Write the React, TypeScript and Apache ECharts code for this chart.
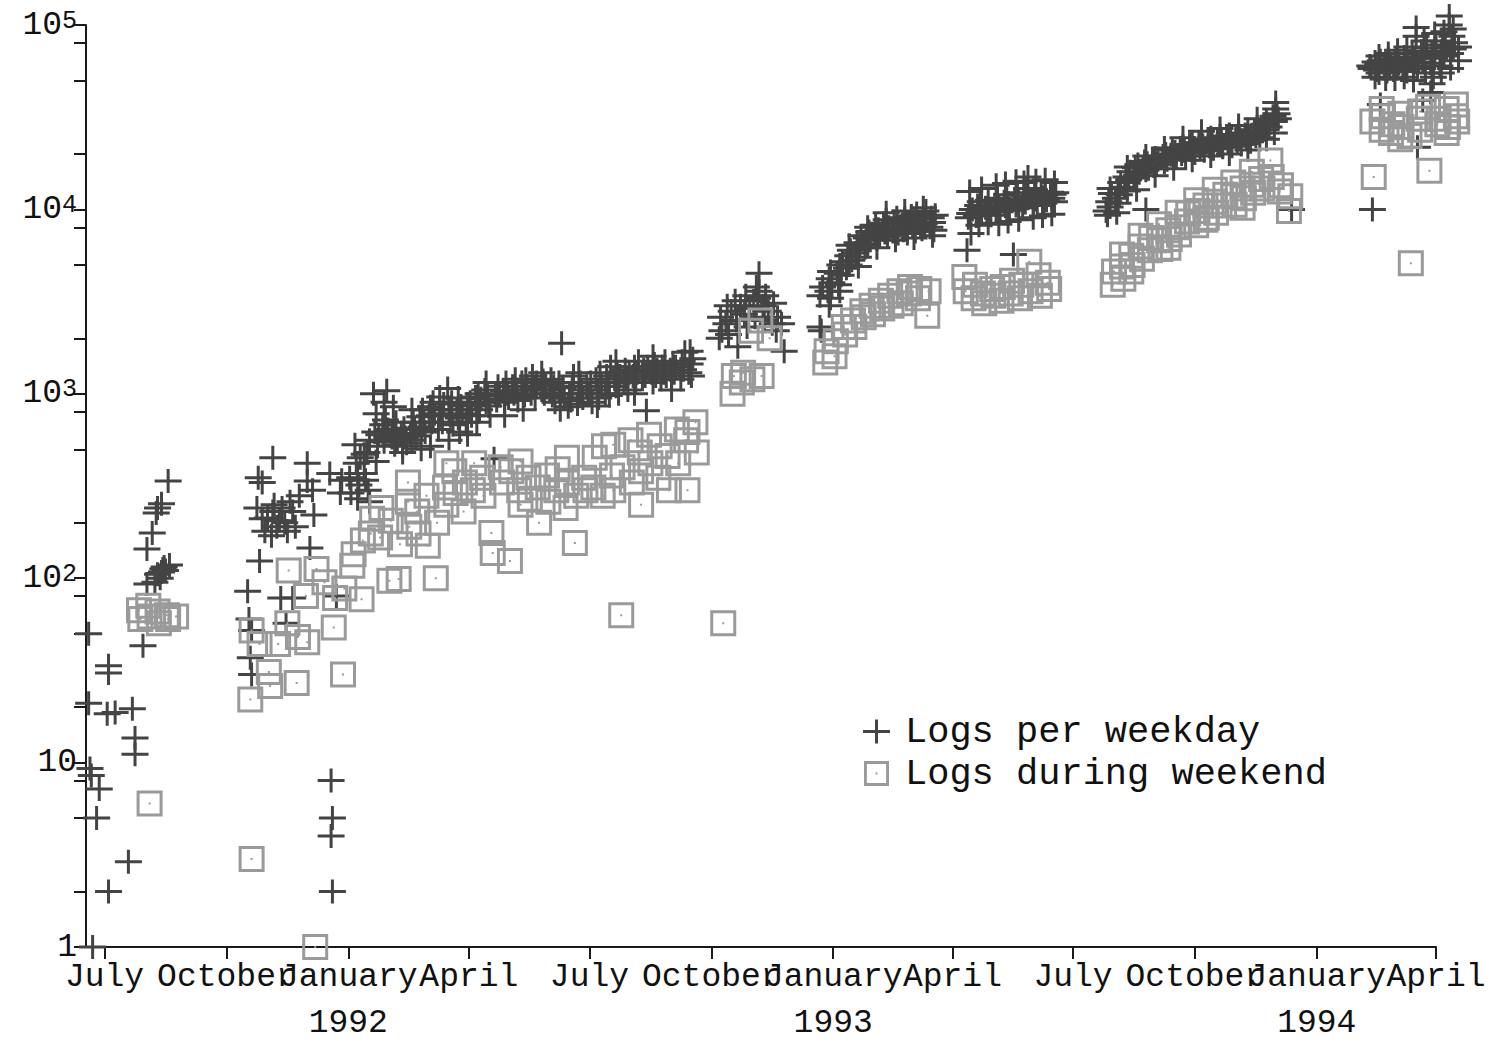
import React, { useEffect, useRef } from "react";
import * as echarts from "echarts";

// ---------- DATA (date, logs) ----------
const weekday1991: [string, number][] = [
  ["1991-06-19", 50], ["1991-06-19", 21], ["1991-06-20", 9.3], ["1991-06-21", 8.5], ["1991-06-22", 1],
  ["1991-06-25", 5], ["1991-06-27", 7.2], ["1991-07-03", 18.4], ["1991-07-04", 33.5], ["1991-07-04", 30.6],
  ["1991-07-04", 2], ["1991-07-09", 18.7], ["1991-07-19", 2.9], ["1991-07-22", 19.6], ["1991-07-24", 13.6],
  ["1991-07-24", 11.1], ["1991-07-30", 43], ["1991-08-02", 93], ["1991-08-02", 144], ["1991-08-06", 176],
  ["1991-08-08", 95], ["1991-08-09", 226], ["1991-08-10", 240], ["1991-08-10", 105], ["1991-08-12", 100],
  ["1991-08-13", 253], ["1991-08-13", 108], ["1991-08-14", 112], ["1991-08-15", 115], ["1991-08-16", 110],
  ["1991-08-18", 337], ["1991-08-19", 118],
  ["1991-10-17", 85], ["1991-10-18", 60], ["1991-10-19", 37], ["1991-10-20", 30], ["1991-10-20", 52],
  ["1991-10-24", 240], ["1991-10-25", 350], ["1991-10-26", 124], ["1991-10-28", 330], ["1991-10-28", 210],
  ["1991-10-30", 180], ["1991-11-01", 212], ["1991-11-04", 170], ["1991-11-05", 450], ["1991-11-05", 230],
  ["1991-11-06", 250], ["1991-11-08", 190], ["1991-11-10", 205], ["1991-11-11", 78], ["1991-11-12", 240],
  ["1991-11-14", 200], ["1991-11-15", 57], ["1991-11-16", 180], ["1991-11-18", 260], ["1991-11-20", 78],
  ["1991-11-20", 230], ["1991-11-22", 190], ["1991-11-25", 280], ["1991-12-01", 420], ["1991-12-01", 337],
  ["1991-12-03", 146], ["1991-12-05", 300], ["1991-12-06", 220], ["1991-12-18", 370], ["1991-12-19", 8],
  ["1991-12-20", 5], ["1991-12-19", 4], ["1991-12-20", 2], ["1991-12-23", 80], ["1991-12-26", 290],
  ["1991-12-27", 340],
];

const weekday1992: [string, number][] = [
  ["1992-01-02", 350], ["1992-01-03", 290], ["1992-01-06", 530], ["1992-01-07", 420], ["1992-01-08", 370],
  ["1992-01-08", 270], ["1992-01-09", 320], ["1992-01-10", 450], ["1992-01-13", 370], ["1992-01-13", 470],
  ["1992-01-14", 340], ["1992-01-15", 480], ["1992-01-16", 300], ["1992-01-17", 560], ["1992-01-17", 260],
  ["1992-01-20", 1000], ["1992-01-21", 620], ["1992-01-22", 780], ["1992-01-22", 430], ["1992-01-23", 520],
  ["1992-01-24", 600], ["1992-01-27", 680], ["1992-01-28", 550], ["1992-01-28", 900], ["1992-01-29", 720],
  ["1992-01-30", 1040], ["1992-01-31", 640],
  ["1992-02-03", 580], ["1992-02-04", 620], ["1992-02-04", 850], ["1992-02-05", 530], ["1992-02-06", 700],
  ["1992-02-07", 560], ["1992-02-10", 600], ["1992-02-11", 520], ["1992-02-11", 480], ["1992-02-12", 650],
  ["1992-02-13", 580], ["1992-02-14", 540], ["1992-02-17", 610], ["1992-02-18", 560], ["1992-02-18", 820],
  ["1992-02-19", 700], ["1992-02-20", 640], ["1992-02-21", 590], ["1992-02-24", 750], ["1992-02-25", 660],
  ["1992-02-25", 500], ["1992-02-26", 820], ["1992-02-27", 700], ["1992-02-28", 620],
  ["1992-03-02", 760], ["1992-03-03", 850], ["1992-03-03", 520], ["1992-03-04", 700], ["1992-03-05", 900],
  ["1992-03-06", 780], ["1992-03-09", 640], ["1992-03-10", 820], ["1992-03-10", 960], ["1992-03-11", 760],
  ["1992-03-12", 700], ["1992-03-13", 880], ["1992-03-16", 1070], ["1992-03-17", 820], ["1992-03-17", 560],
  ["1992-03-18", 760], ["1992-03-19", 900], ["1992-03-20", 680], ["1992-03-23", 820], ["1992-03-24", 740],
  ["1992-03-24", 950], ["1992-03-25", 620], ["1992-03-26", 860], ["1992-03-27", 780], ["1992-03-30", 700],
  ["1992-03-31", 600], ["1992-03-31", 880],
  ["1992-04-01", 820], ["1992-04-02", 900], ["1992-04-03", 760], ["1992-04-06", 960], ["1992-04-07", 880],
  ["1992-04-07", 700], ["1992-04-08", 1000], ["1992-04-09", 820], ["1992-04-10", 940], ["1992-04-13", 1050],
  ["1992-04-14", 900], ["1992-04-14", 1150], ["1992-04-15", 980], ["1992-04-16", 860], ["1992-04-17", 760],
  ["1992-04-20", 445], ["1992-04-21", 1000], ["1992-04-22", 920], ["1992-04-23", 1100], ["1992-04-24", 980],
  ["1992-04-27", 1040], ["1992-04-28", 900], ["1992-04-28", 760], ["1992-04-29", 1150], ["1992-04-30", 1000],
  ["1992-05-01", 950], ["1992-05-04", 1100], ["1992-05-05", 1000], ["1992-05-06", 1200], ["1992-05-07", 1050],
  ["1992-05-08", 920], ["1992-05-11", 1150], ["1992-05-12", 1050], ["1992-05-12", 820], ["1992-05-13", 980],
  ["1992-05-14", 1200], ["1992-05-15", 1100], ["1992-05-18", 1000], ["1992-05-19", 1250], ["1992-05-20", 1080],
  ["1992-05-21", 950], ["1992-05-22", 1150], ["1992-05-26", 1050], ["1992-05-26", 1300], ["1992-05-27", 1180],
  ["1992-05-28", 1000], ["1992-05-29", 1120],
  ["1992-06-01", 1050], ["1992-06-02", 1200], ["1992-06-03", 980], ["1992-06-04", 1100], ["1992-06-05", 900],
  ["1992-06-08", 1150], ["1992-06-09", 1000], ["1992-06-09", 820], ["1992-06-10", 1880], ["1992-06-11", 1080],
  ["1992-06-12", 950], ["1992-06-15", 850], ["1992-06-16", 1000], ["1992-06-17", 920], ["1992-06-18", 1100],
  ["1992-06-19", 1250], ["1992-06-22", 880], ["1992-06-23", 1000], ["1992-06-23", 1300], ["1992-06-24", 1150],
  ["1992-06-25", 1050], ["1992-06-26", 950], ["1992-06-29", 1100], ["1992-06-30", 1000],
  ["1992-07-01", 1000], ["1992-07-02", 1150], ["1992-07-03", 900], ["1992-07-06", 1200], ["1992-07-07", 1050],
  ["1992-07-07", 860], ["1992-07-08", 950], ["1992-07-09", 1300], ["1992-07-10", 1100], ["1992-07-13", 1000],
  ["1992-07-14", 1250], ["1992-07-15", 1150], ["1992-07-16", 980], ["1992-07-17", 1400], ["1992-07-20", 1200],
  ["1992-07-21", 1100], ["1992-07-21", 1500], ["1992-07-22", 1300], ["1992-07-23", 1000], ["1992-07-24", 1250],
  ["1992-07-27", 1150], ["1992-07-28", 1350], ["1992-07-29", 1200], ["1992-07-30", 1050], ["1992-07-31", 1300],
  ["1992-08-03", 1250], ["1992-08-04", 1400], ["1992-08-04", 1000], ["1992-08-05", 1150], ["1992-08-06", 1300],
  ["1992-08-07", 1500], ["1992-08-10", 1200], ["1992-08-11", 1350], ["1992-08-12", 1250], ["1992-08-13", 810],
  ["1992-08-14", 1400], ["1992-08-17", 1300], ["1992-08-18", 1150], ["1992-08-18", 1600], ["1992-08-19", 1450],
  ["1992-08-20", 1250], ["1992-08-21", 1350], ["1992-08-24", 1200], ["1992-08-25", 1400], ["1992-08-26", 1300],
  ["1992-08-27", 1500], ["1992-08-28", 1250], ["1992-08-31", 1350], ["1992-09-01", 1250], ["1992-09-01", 1050],
  ["1992-09-02", 1450], ["1992-09-03", 1300], ["1992-09-04", 1400], ["1992-09-08", 1200], ["1992-09-09", 1500],
  ["1992-09-10", 1350], ["1992-09-11", 1680], ["1992-09-14", 1300], ["1992-09-15", 1450], ["1992-09-15", 1700],
  ["1992-09-16", 1250], ["1992-09-17", 1550],
  ["1992-10-07", 2000], ["1992-10-08", 2600], ["1992-10-09", 2200], ["1992-10-12", 2400], ["1992-10-13", 3000],
  ["1992-10-14", 2100], ["1992-10-16", 2800], ["1992-10-19", 3200], ["1992-10-20", 2500], ["1992-10-21", 1800],
  ["1992-10-23", 3000], ["1992-10-26", 2700], ["1992-10-27", 3400], ["1992-10-28", 2300], ["1992-10-30", 2900],
  ["1992-11-02", 3200], ["1992-11-03", 2600], ["1992-11-04", 3800], ["1992-11-05", 3300], ["1992-11-06", 3600],
  ["1992-11-06", 4500], ["1992-11-09", 3000], ["1992-11-10", 2500], ["1992-11-11", 3400], ["1992-11-13", 2800],
  ["1992-11-16", 2400], ["1992-11-17", 3100], ["1992-11-19", 2200], ["1992-11-20", 2600], ["1992-11-23", 2400],
  ["1992-11-25", 1700],
  ["1992-12-22", 2300], ["1992-12-22", 3400], ["1992-12-23", 2200], ["1992-12-24", 3800], ["1992-12-28", 3600],
  ["1992-12-29", 4200], ["1992-12-29", 3000], ["1992-12-30", 3300], ["1992-12-30", 4600], ["1992-12-31", 4000],
];

const weekday1993: [string, number][] = [
  ["1993-01-04", 4500], ["1993-01-05", 3900], ["1993-01-06", 5000], ["1993-01-06", 3600], ["1993-01-07", 4400],
  ["1993-01-08", 5200], ["1993-01-11", 4800], ["1993-01-12", 5600], ["1993-01-13", 5000], ["1993-01-13", 6400],
  ["1993-01-14", 6000], ["1993-01-15", 5300], ["1993-01-18", 5800], ["1993-01-19", 6600], ["1993-01-20", 5500],
  ["1993-01-20", 4900], ["1993-01-21", 6400], ["1993-01-22", 7200], ["1993-01-25", 6200], ["1993-01-26", 7000],
  ["1993-01-27", 6500], ["1993-01-27", 8000], ["1993-01-28", 7600], ["1993-01-29", 6800],
  ["1993-02-01", 7300], ["1993-02-02", 8200], ["1993-02-03", 6900], ["1993-02-03", 6200], ["1993-02-04", 7800],
  ["1993-02-05", 7100], ["1993-02-08", 8400], ["1993-02-09", 7500], ["1993-02-10", 8800], ["1993-02-10", 9600],
  ["1993-02-11", 7200], ["1993-02-12", 8000], ["1993-02-15", 7600], ["1993-02-16", 8600], ["1993-02-17", 7900],
  ["1993-02-17", 6800], ["1993-02-18", 9000], ["1993-02-19", 7400], ["1993-02-22", 8300], ["1993-02-23", 7700],
  ["1993-02-24", 8900], ["1993-02-24", 9800], ["1993-02-25", 8100], ["1993-02-26", 7400],
  ["1993-03-01", 9200], ["1993-03-02", 8000], ["1993-03-03", 8600], ["1993-03-03", 7000], ["1993-03-04", 7600],
  ["1993-03-05", 9500], ["1993-03-08", 8200], ["1993-03-09", 7800], ["1993-03-10", 8900], ["1993-03-10", 10200],
  ["1993-03-11", 8400], ["1993-03-12", 9800], ["1993-03-15", 8000], ["1993-03-16", 9000], ["1993-03-17", 8500],
  ["1993-03-17", 7200], ["1993-03-18", 7700], ["1993-03-19", 9300],
  ["1993-04-12", 6000], ["1993-04-13", 9000], ["1993-04-14", 9500], ["1993-04-14", 12500], ["1993-04-15", 7400],
  ["1993-04-16", 10000], ["1993-04-19", 9200], ["1993-04-20", 10500], ["1993-04-21", 9800], ["1993-04-21", 8200],
  ["1993-04-22", 11000], ["1993-04-23", 9400], ["1993-04-23", 13000], ["1993-04-26", 10200], ["1993-04-27", 9600],
  ["1993-04-28", 11200], ["1993-04-28", 8400], ["1993-04-29", 10000], ["1993-04-30", 9300],
  ["1993-05-03", 10600], ["1993-05-04", 9900], ["1993-05-04", 13500], ["1993-05-05", 11500], ["1993-05-06", 10300],
  ["1993-05-06", 8300], ["1993-05-07", 9700], ["1993-05-10", 11000], ["1993-05-11", 10400], ["1993-05-11", 13800],
  ["1993-05-12", 12000], ["1993-05-13", 10800], ["1993-05-13", 8600], ["1993-05-14", 9900], ["1993-05-17", 5700],
  ["1993-05-18", 11300], ["1993-05-19", 10500], ["1993-05-19", 14200], ["1993-05-20", 12300], ["1993-05-21", 11000],
  ["1993-05-21", 8800], ["1993-05-24", 10200], ["1993-05-25", 11800], ["1993-05-25", 14000], ["1993-05-26", 10900],
  ["1993-05-27", 13000], ["1993-05-28", 15000], ["1993-05-28", 11500],
  ["1993-06-01", 10700], ["1993-06-01", 9000], ["1993-06-02", 12200], ["1993-06-03", 11300], ["1993-06-03", 14300],
  ["1993-06-04", 10500], ["1993-06-07", 12500], ["1993-06-08", 11600], ["1993-06-08", 9200], ["1993-06-09", 10900],
  ["1993-06-10", 12000], ["1993-06-10", 14500], ["1993-06-11", 11200], ["1993-06-14", 12400], ["1993-06-15", 11500],
  ["1993-06-15", 9400], ["1993-06-16", 12100], ["1993-06-17", 11000], ["1993-06-17", 14000], ["1993-06-18", 12300],
  ["1993-07-26", 9800], ["1993-07-27", 9300], ["1993-07-28", 11000], ["1993-07-29", 10300], ["1993-07-29", 13000],
  ["1993-07-30", 12200], ["1993-08-02", 11500], ["1993-08-03", 9600], ["1993-08-04", 13000], ["1993-08-04", 10800],
  ["1993-08-05", 12000], ["1993-08-06", 14000], ["1993-08-09", 13200], ["1993-08-10", 15000], ["1993-08-11", 12600],
  ["1993-08-11", 17000], ["1993-08-12", 14500], ["1993-08-13", 16000], ["1993-08-16", 14800], ["1993-08-17", 16800],
  ["1993-08-18", 15300], ["1993-08-18", 12800], ["1993-08-19", 17500], ["1993-08-20", 15800], ["1993-08-23", 17000],
  ["1993-08-24", 18200], ["1993-08-25", 10000], ["1993-08-25", 16300], ["1993-08-25", 19500], ["1993-08-26", 17800],
  ["1993-08-27", 16600], ["1993-08-30", 18500], ["1993-08-31", 17200],
  ["1993-09-01", 19000], ["1993-09-01", 15200], ["1993-09-02", 17600], ["1993-09-03", 18800], ["1993-09-07", 19500],
  ["1993-09-08", 18000], ["1993-09-08", 21500], ["1993-09-09", 20000], ["1993-09-10", 18600], ["1993-09-13", 19800],
  ["1993-09-14", 21000], ["1993-09-15", 19200], ["1993-09-15", 16600], ["1993-09-16", 20500], ["1993-09-17", 19000],
  ["1993-09-20", 21500], ["1993-09-21", 20000], ["1993-09-22", 22000], ["1993-09-22", 24500], ["1993-09-23", 20800],
  ["1993-09-24", 19500], ["1993-09-27", 22500], ["1993-09-28", 21000], ["1993-09-29", 23000], ["1993-09-29", 18500],
  ["1993-09-30", 21500],
  ["1993-10-01", 20200], ["1993-10-04", 23000], ["1993-10-05", 21800], ["1993-10-06", 24000], ["1993-10-06", 26500],
  ["1993-10-07", 22200], ["1993-10-08", 20800], ["1993-10-11", 23500], ["1993-10-12", 22000], ["1993-10-13", 24500],
  ["1993-10-13", 19500], ["1993-10-14", 22800], ["1993-10-15", 21300], ["1993-10-18", 24000], ["1993-10-19", 22500],
  ["1993-10-20", 25000], ["1993-10-20", 27500], ["1993-10-21", 23200], ["1993-10-22", 21700], ["1993-10-25", 24500],
  ["1993-10-26", 23000], ["1993-10-27", 25500], ["1993-10-27", 20000], ["1993-10-28", 23600], ["1993-10-29", 22000],
  ["1993-11-01", 25000], ["1993-11-02", 23500], ["1993-11-03", 26000], ["1993-11-03", 28500], ["1993-11-04", 24000],
  ["1993-11-05", 22500], ["1993-11-08", 25500], ["1993-11-09", 24200], ["1993-11-10", 27000], ["1993-11-10", 21000],
  ["1993-11-11", 25000], ["1993-11-12", 23300], ["1993-11-15", 26500], ["1993-11-16", 25000], ["1993-11-17", 28000],
  ["1993-11-17", 31000], ["1993-11-18", 26000], ["1993-11-19", 24500], ["1993-11-22", 29000], ["1993-11-23", 27000],
  ["1993-11-24", 30000], ["1993-11-24", 24000], ["1993-11-26", 28000], ["1993-11-29", 32000], ["1993-11-30", 30000],
  ["1993-11-30", 26000], ["1993-12-01", 35000], ["1993-12-01", 38000], ["1993-12-02", 33000], ["1993-12-03", 31000],
  ["1993-12-13", 10000],
];

const weekday1994: [string, number][] = [
  ["1994-02-10", 60000], ["1994-02-11", 58000], ["1994-02-12", 10000], ["1994-02-14", 63000], ["1994-02-14", 52000],
  ["1994-02-15", 57000], ["1994-02-16", 61000], ["1994-02-17", 55000], ["1994-02-17", 68000], ["1994-02-18", 37000],
  ["1994-02-18", 64000], ["1994-02-21", 59000], ["1994-02-22", 62000], ["1994-02-22", 51000], ["1994-02-23", 56000],
  ["1994-02-24", 65000], ["1994-02-24", 70000], ["1994-02-25", 60000], ["1994-02-28", 57000],
  ["1994-03-01", 63000], ["1994-03-01", 51000], ["1994-03-02", 66000], ["1994-03-03", 59000], ["1994-03-03", 73000],
  ["1994-03-04", 62000], ["1994-03-07", 58000], ["1994-03-08", 67000], ["1994-03-08", 52000], ["1994-03-09", 61000],
  ["1994-03-10", 56000], ["1994-03-10", 76000], ["1994-03-11", 64000], ["1994-03-14", 70000], ["1994-03-15", 60000],
  ["1994-03-15", 50000], ["1994-03-16", 66000], ["1994-03-17", 97000], ["1994-03-17", 87000], ["1994-03-18", 21700],
  ["1994-03-18", 58000], ["1994-03-21", 72000], ["1994-03-22", 39000], ["1994-03-22", 63000], ["1994-03-23", 68000],
  ["1994-03-23", 82000], ["1994-03-24", 55000], ["1994-03-25", 75000], ["1994-03-28", 43000], ["1994-03-28", 62000],
  ["1994-03-29", 70000], ["1994-03-29", 48000], ["1994-03-30", 52000], ["1994-03-31", 66000], ["1994-03-31", 90000],
  ["1994-04-01", 78000], ["1994-04-04", 60000], ["1994-04-05", 72000], ["1994-04-05", 55000], ["1994-04-06", 82000],
  ["1994-04-07", 68000], ["1994-04-07", 92000], ["1994-04-08", 76000], ["1994-04-11", 112000], ["1994-04-11", 100000],
  ["1994-04-12", 70000], ["1994-04-12", 58000], ["1994-04-13", 87000], ["1994-04-14", 74000], ["1994-04-14", 95000],
  ["1994-04-15", 80000], ["1994-04-18", 76000], ["1994-04-18", 64000],
];

const weekend1991: [string, number][] = [
  ["1991-07-27", 67], ["1991-07-28", 60], ["1991-08-03", 71], ["1991-08-04", 6], ["1991-08-04", 62],
  ["1991-08-10", 66], ["1991-08-11", 57], ["1991-08-17", 63], ["1991-08-18", 60], ["1991-08-24", 62],
  ["1991-10-19", 22], ["1991-10-20", 3], ["1991-10-20", 52], ["1991-10-26", 44], ["1991-11-02", 31],
  ["1991-11-03", 26], ["1991-11-09", 44], ["1991-11-16", 57], ["1991-11-17", 110], ["1991-11-23", 27],
  ["1991-11-24", 48], ["1991-11-30", 80], ["1991-12-01", 45], ["1991-12-07", 1], ["1991-12-08", 112],
  ["1991-12-14", 95], ["1991-12-21", 54], ["1991-12-22", 78], ["1991-12-28", 30], ["1991-12-29", 88],
];

const weekend1992: [string, number][] = [
  ["1992-01-04", 117], ["1992-01-05", 135], ["1992-01-11", 77], ["1992-01-12", 160], ["1992-01-18", 175],
  ["1992-01-19", 210], ["1992-01-25", 166], ["1992-01-26", 240], ["1992-02-01", 97], ["1992-02-02", 205],
  ["1992-02-08", 99], ["1992-02-09", 153], ["1992-02-15", 260], ["1992-02-15", 330], ["1992-02-16", 190],
  ["1992-02-22", 230], ["1992-02-23", 175], ["1992-02-29", 280], ["1992-03-01", 150], ["1992-03-07", 100],
  ["1992-03-08", 200], ["1992-03-14", 310], ["1992-03-15", 250], ["1992-03-15", 420], ["1992-03-21", 380],
  ["1992-03-22", 290], ["1992-03-28", 230], ["1992-03-29", 330], ["1992-04-04", 300], ["1992-04-05", 420],
  ["1992-04-11", 350], ["1992-04-12", 280], ["1992-04-18", 176], ["1992-04-19", 137], ["1992-04-25", 400],
  ["1992-04-26", 330], ["1992-05-02", 124], ["1992-05-03", 380], ["1992-05-09", 300], ["1992-05-10", 430],
  ["1992-05-10", 250], ["1992-05-16", 350], ["1992-05-17", 270], ["1992-05-23", 310], ["1992-05-24", 200],
  ["1992-05-30", 360], ["1992-05-31", 260], ["1992-06-06", 300], ["1992-06-07", 390], ["1992-06-13", 240],
  ["1992-06-14", 330], ["1992-06-14", 450], ["1992-06-20", 155], ["1992-06-21", 280], ["1992-06-27", 350],
  ["1992-06-28", 300], ["1992-07-04", 310], ["1992-07-05", 450], ["1992-07-11", 280], ["1992-07-12", 520],
  ["1992-07-18", 360], ["1992-07-19", 300], ["1992-07-19", 530], ["1992-07-25", 63], ["1992-07-26", 400],
  ["1992-08-01", 560], ["1992-08-02", 330], ["1992-08-08", 480], ["1992-08-09", 380], ["1992-08-09", 250],
  ["1992-08-15", 600], ["1992-08-16", 420], ["1992-08-22", 350], ["1992-08-23", 520], ["1992-08-29", 460],
  ["1992-08-30", 300], ["1992-09-05", 640], ["1992-09-06", 420], ["1992-09-12", 560], ["1992-09-13", 300],
  ["1992-09-13", 620], ["1992-09-19", 700], ["1992-09-20", 480], ["1992-10-10", 57], ["1992-10-17", 1000],
  ["1992-10-18", 1250], ["1992-10-24", 1150], ["1992-10-25", 1300], ["1992-10-31", 2200], ["1992-11-01", 1200],
  ["1992-11-07", 2500], ["1992-11-08", 1250], ["1992-11-14", 2000], ["1992-12-26", 1480], ["1992-12-27", 1700],
];

const weekend1993: [string, number][] = [
  ["1993-01-02", 1600], ["1993-01-03", 1930], ["1993-01-09", 2300], ["1993-01-10", 2100], ["1993-01-16", 2500],
  ["1993-01-17", 2300], ["1993-01-23", 2800], ["1993-01-24", 2600], ["1993-01-30", 3000], ["1993-01-31", 2700],
  ["1993-02-06", 3200], ["1993-02-07", 2900], ["1993-02-13", 3400], ["1993-02-14", 3000], ["1993-02-20", 3600],
  ["1993-02-21", 3100], ["1993-02-27", 3500], ["1993-02-28", 3800], ["1993-03-06", 3300], ["1993-03-07", 3700],
  ["1993-03-13", 2650], ["1993-03-14", 3600], ["1993-04-10", 4300], ["1993-04-11", 3600], ["1993-04-17", 3300],
  ["1993-04-18", 3900], ["1993-04-24", 3500], ["1993-04-25", 3100], ["1993-05-01", 3700], ["1993-05-02", 3400],
  ["1993-05-08", 3200], ["1993-05-09", 3800], ["1993-05-15", 3500], ["1993-05-16", 4100], ["1993-05-22", 3300],
  ["1993-05-23", 3900], ["1993-05-29", 5200], ["1993-05-30", 3600], ["1993-06-05", 4400], ["1993-06-06", 3400],
  ["1993-06-12", 4000], ["1993-06-13", 3700], ["1993-07-31", 3900], ["1993-08-01", 4600], ["1993-08-07", 4900],
  ["1993-08-07", 5700], ["1993-08-08", 4200], ["1993-08-14", 5600], ["1993-08-14", 4600], ["1993-08-15", 5000],
  ["1993-08-21", 6300], ["1993-08-21", 7200], ["1993-08-22", 5400], ["1993-08-28", 6000], ["1993-08-29", 7000],
  ["1993-09-04", 6800], ["1993-09-04", 8300], ["1993-09-05", 6100], ["1993-09-11", 7700], ["1993-09-11", 6200],
  ["1993-09-12", 6900], ["1993-09-18", 8000], ["1993-09-18", 9600], ["1993-09-19", 7300], ["1993-09-25", 8600],
  ["1993-09-26", 9500], ["1993-10-02", 8200], ["1993-10-02", 11200], ["1993-10-03", 9800], ["1993-10-09", 10500],
  ["1993-10-09", 8800], ["1993-10-10", 9000], ["1993-10-16", 11000], ["1993-10-16", 12800], ["1993-10-17", 9600],
  ["1993-10-23", 10500], ["1993-10-24", 12000], ["1993-10-30", 11800], ["1993-10-30", 14000], ["1993-10-31", 10600],
  ["1993-11-06", 13000], ["1993-11-06", 10200], ["1993-11-07", 11500], ["1993-11-13", 13600], ["1993-11-13", 16000],
  ["1993-11-14", 12300], ["1993-11-20", 14600], ["1993-11-21", 13000], ["1993-11-27", 18400], ["1993-11-28", 15000],
  ["1993-12-04", 12500], ["1993-12-05", 13500], ["1993-12-11", 9800], ["1993-12-12", 11800],
];

const weekend1994: [string, number][] = [
  ["1994-02-12", 30000], ["1994-02-13", 15000], ["1994-02-19", 27000], ["1994-02-19", 35000], ["1994-02-20", 32000],
  ["1994-02-26", 26000], ["1994-02-27", 29000], ["1994-03-05", 33000], ["1994-03-05", 24000], ["1994-03-06", 28000],
  ["1994-03-12", 25000], ["1994-03-13", 5100], ["1994-03-19", 31000], ["1994-03-20", 34000], ["1994-03-20", 27000],
  ["1994-03-26", 36000], ["1994-03-27", 16200], ["1994-04-02", 29000], ["1994-04-03", 31000], ["1994-04-09", 35000],
  ["1994-04-09", 26000], ["1994-04-10", 28000], ["1994-04-16", 32000], ["1994-04-16", 37000], ["1994-04-17", 30000],
];

const seriesNames = ["Logs per weekday", "Logs during weekend"];
const xTickDates = [
  "1991-07-01", "1991-10-01", "1992-01-01", "1992-04-01", "1992-07-01", "1992-10-01",
  "1993-01-01", "1993-04-01", "1993-07-01", "1993-10-01", "1994-01-01", "1994-04-01",
];
const monthNames: Record<number, string> = { 0: "January", 3: "April", 6: "July", 9: "October" };
const yTickValues = [
  1, 2, 5, 8, 10, 20, 50, 80, 100, 200, 500, 800, 1000, 2000, 5000, 8000,
  10000, 20000, 50000, 80000, 100000,
];
const yLabelValues = [1, 10, 100, 1000, 10000, 100000];
const xMinDate = "1991-06-17";
const xMaxDate = "1994-04-01";
const yMin = 1;
const yMax = 100000;

// ---------- helpers ----------
const ts = (d: string) => Date.parse(d + "T00:00:00Z");
const toPoints = (arr: [string, number][][]) =>
  arr.flat().map(([d, v]) => [ts(d), v]);

const FONT = "'Liberation Mono', 'DejaVu Sans Mono', monospace";
const PLUS = "path://M0,10.5H27V13.5H0Z M12,0H15V24H12Z";
const SQUARE = "path://M0,0H26V26H0Z M3,3V23H23V3Z M12,12H14V14H12Z";

export default function App() {
  const ref = useRef<HTMLDivElement>(null);

  useEffect(() => {
    if (!ref.current) return;
    const chart = echarts.init(ref.current, undefined, { renderer: "svg" });
    const axisColor = "#1a1a1a";
    chart.setOption({
      animation: false,
      backgroundColor: "#ffffff",
      grid: {
        left: 86,
        right: 75,
        top: 25,
        bottom: 96,
        containLabel: false,
        outerBoundsMode: "none",
      },
      legend: {
        data: seriesNames,
        orient: "vertical",
        left: 858,
        top: 708,
        itemWidth: 27,
        itemHeight: 25,
        itemGap: 5,
        selectedMode: false,
        textStyle: {
          fontFamily: FONT,
          fontSize: 37,
          lineHeight: 25,
          color: "#111",
          padding: [0, 0, 0, 10],
        },
      },
      xAxis: {
        type: "value",
        min: ts(xMinDate),
        max: ts(xMaxDate),
        splitLine: { show: false },
        axisLine: { show: true, lineStyle: { color: axisColor, width: 2 } },
        axisTick: {
          show: true,
          length: 12,
          inside: false,
          lineStyle: { color: axisColor, width: 2 },
          customValues: xTickDates.map(ts),
        },
        axisLabel: {
          customValues: xTickDates.map(ts),
          hideOverlap: false,
          margin: 7,
          fontFamily: FONT,
          fontSize: 33,
          lineHeight: 46,
          color: "#111",
          formatter: (v: number) => {
            const d = new Date(v);
            const m = d.getUTCMonth();
            const name = monthNames[m] ?? "";
            return m === 0 ? name + "\n" + d.getUTCFullYear() : name;
          },
        },
      },
      yAxis: {
        type: "log",
        logBase: 10,
        min: yMin,
        max: yMax,
        splitLine: { show: false },
        axisLine: { show: true, lineStyle: { color: axisColor, width: 2 } },
        axisTick: {
          show: true,
          length: 12,
          inside: false,
          lineStyle: { color: axisColor, width: 2 },
          customValues: yTickValues,
        },
        axisLabel: {
          customValues: yLabelValues,
          showMinLabel: true,
          showMaxLabel: true,
          margin: 9,
          color: "#111",
          formatter: (v: number) => {
            const e = Math.round(Math.log10(v));
            if (e === 0) return "{b|1}";
            if (e === 1) return "{b|10}";
            return "{b|10}{s|" + e + "}";
          },
          rich: {
            b: { fontFamily: FONT, fontSize: 33, color: "#111" },
            s: { fontFamily: FONT, fontSize: 25, color: "#111", verticalAlign: "top" },
          },
        },
      },
      series: [
        {
          name: seriesNames[0],
          type: "scatter",
          symbol: PLUS,
          symbolSize: [27, 24],
          clip: false,
          silent: true,
          itemStyle: { color: "#444444", opacity: 1 },
          emphasis: { disabled: true },
          data: toPoints([weekday1991, weekday1992, weekday1993, weekday1994]),
        },
        {
          name: seriesNames[1],
          type: "scatter",
          symbol: SQUARE,
          symbolSize: [26, 26],
          clip: false,
          silent: true,
          itemStyle: { color: "#9a9a9a", opacity: 1 },
          emphasis: { disabled: true },
          data: toPoints([weekend1991, weekend1992, weekend1993, weekend1994]),
        },
      ],
    });
    return () => chart.dispose();
  }, []);

  return (
    <div
      ref={ref}
      style={{ position: "absolute", left: 0, top: 0, width: 1511, height: 1043, background: "#fff" }}
    />
  );
}
